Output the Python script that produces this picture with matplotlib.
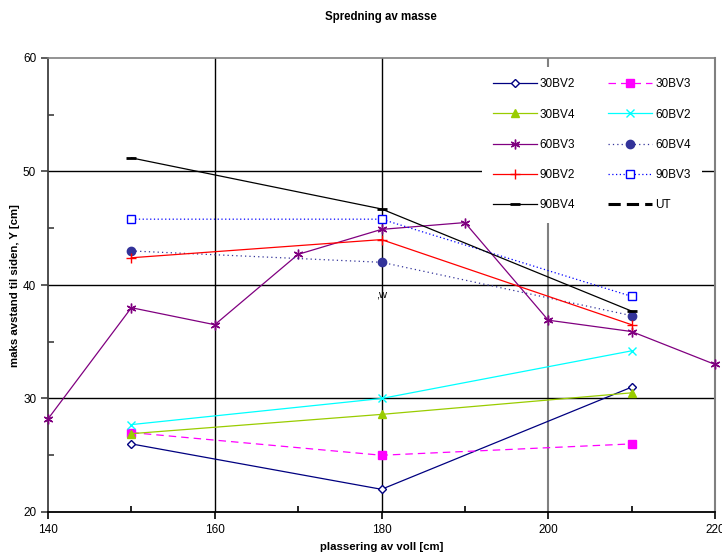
import matplotlib
matplotlib.use("Agg")
import matplotlib.pyplot as plt
from matplotlib.lines import Line2D

# =========================
# Typography
# =========================
plt.rcParams['font.family'] = ['Liberation Sans', 'DejaVu Sans']
plt.rcParams['font.size'] = 8.5
plt.rcParams['axes.unicode_minus'] = False

# =========================
# Data
# =========================
x_three = [150, 180, 210]
x_60bv3 = [140, 150, 160, 170, 180, 190, 200, 210, 220]

y_30bv2 = [26.0, 22.0, 31.0]
y_30bv3 = [27.0, 25.0, 26.0]
y_30bv4 = [26.9, 28.6, 30.5]
y_60bv2 = [27.7, 30.0, 34.2]
y_60bv3 = [28.2, 38.0, 36.5, 42.7, 44.9, 45.5, 36.9, 35.9, 33.0]
y_60bv4 = [43.0, 42.0, 37.3]
y_90bv2 = [42.4, 44.0, 36.5]
y_90bv3 = [45.8, 45.8, 39.0]
y_90bv4 = [51.2, 46.7, 37.7]

title = "Spredning av masse"
xlabel = "plassering av voll [cm]"
ylabel = "maks avstand til siden, Y [cm]"


def main():
    fig = plt.figure(figsize=(7.22, 5.54), dpi=100)
    ax = fig.add_axes([48 / 722, 1 - 512 / 554, (715 - 48) / 722, (512 - 58) / 554])

    ax.set_xlim(140, 220)
    ax.set_ylim(20, 60)
    ax.set_xticks([140, 160, 180, 200, 220])
    ax.set_xticks([150, 170, 190, 210], minor=True)
    ax.set_yticks([20, 30, 40, 50, 60])
    ax.set_yticks([25, 35, 45, 55], minor=True)

    # grid lines
    for xv, col, lw in [(160, 'black', 1.0), (180, 'black', 1.0),
                        (200, '#808080', 1.5)]:
        ax.axvline(xv, color=col, lw=lw, zorder=1)
    for yv in [30, 40, 50]:
        ax.axhline(yv, color='black', lw=1.0, zorder=1)

    ax.spines['top'].set_color('#808080')
    ax.spines['top'].set_linewidth(1.2)
    ax.spines['right'].set_color('#808080')
    ax.spines['right'].set_linewidth(1.5)
    ax.spines['left'].set_color('#404040')
    ax.spines['left'].set_linewidth(1.3)
    ax.spines['bottom'].set_linewidth(1.3)
    ax.tick_params(axis='both', which='major', direction='out', length=5, width=1.2)
    ax.tick_params(axis='both', which='minor', direction='in', length=4, width=1.2)
    ax.tick_params(axis='y', which='both', color='#404040')

    lw = 0.9
    ax.plot(x_three, y_30bv2, color='#000080', lw=lw, marker='D', ms=4.5,
            mfc='white', mec='#000080', mew=1.0, label='30BV2', zorder=3)
    ax.plot(x_three, y_30bv3, color='#FF00FF', lw=lw, ls=(0, (6, 4)), marker='s', ms=6,
            mfc='#FF00FF', mec='#FF00FF', label='30BV3', zorder=3)
    ax.plot(x_three, y_30bv4, color='#99CC00', lw=lw, marker='^', ms=6,
            mfc='#99CC00', mec='#99CC00', label='30BV4', zorder=3)
    ax.plot(x_three, y_60bv2, color='#00FFFF', lw=lw, marker='x', ms=6,
            mew=1.0, label='60BV2', zorder=3)
    ax.plot(x_60bv3, y_60bv3, color='#800080', lw=lw, marker=(6, 2, 0), ms=7,
            mew=1.0, label='60BV3', zorder=3, clip_on=False)
    ax.plot(x_three, y_60bv4, color='#333399', lw=lw, ls=(0, (1, 2.5)), marker='o', ms=6,
            mfc='#333399', mec='#333399', label='60BV4', zorder=3)
    ax.plot(x_three, y_90bv2, color='#FF0000', lw=lw, marker='+', ms=7,
            mew=1.0, label='90BV2', zorder=3)
    ax.plot(x_three, y_90bv3, color='#0000FF', lw=lw, ls=(0, (1, 2)), marker='s', ms=6,
            mfc='white', mec='#0000FF', mew=1.0, label='90BV3', zorder=3)
    ax.plot(x_three, y_90bv4, color='black', lw=lw, marker='_', ms=7,
            mew=2.0, label='90BV4', zorder=3)

    ax.text(180, 39.2, ",w", ha='center', va='center', fontsize=8)

    handles, labels = ax.get_legend_handles_labels()
    handles.append(Line2D([], [], color='black', lw=2.2, ls=(0, (4, 2))))
    labels.append('UT')
    # legend is filled row by row in the original, matplotlib fills columns
    order = [0, 2, 4, 6, 8, 1, 3, 5, 7, 9]
    leg = ax.legend([handles[i] for i in order], [labels[i] for i in order],
                    ncol=2, loc='upper left',
                    bbox_to_anchor=(482 / 722, 1 - 67 / 554),
                    bbox_transform=fig.transFigure,
                    fontsize=8.5, frameon=True, fancybox=False,
                    edgecolor='none', facecolor='white', framealpha=1,
                    handlelength=3.7, handletextpad=0.25, columnspacing=2.8,
                    labelspacing=1.55, borderpad=0.95, borderaxespad=0)
    leg.set_zorder(5)

    fig.text(381 / 722, 1 - 17 / 554, title, ha='center', va='center',
             fontsize=8.3, fontweight='bold')
    fig.text(382 / 722, 1 - 547 / 554, xlabel, ha='center', va='center',
             fontsize=8.2, fontweight='bold')
    fig.text(15 / 722, 1 - 286 / 554, ylabel, ha='center', va='center',
             rotation=90, fontsize=8.2, fontweight='bold')

    fig.savefig("out.png", dpi=100)


if __name__ == "__main__":
    main()
